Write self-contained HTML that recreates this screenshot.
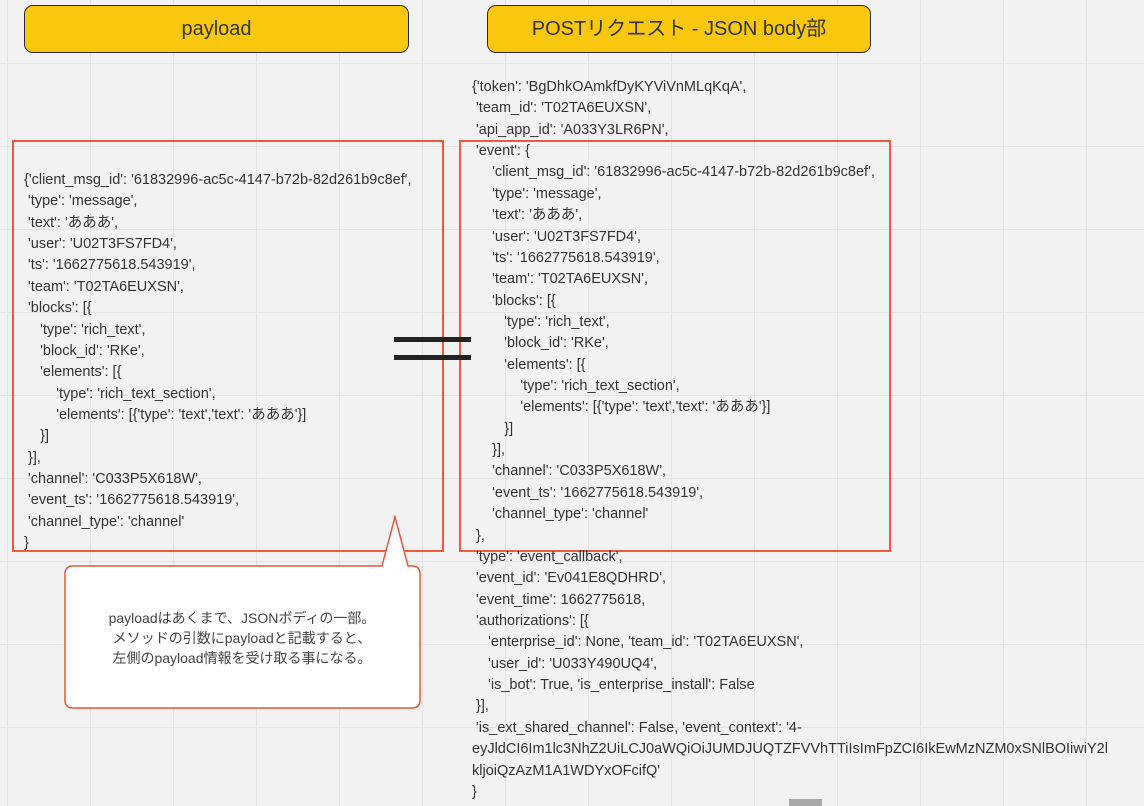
<!DOCTYPE html>
<html><head><meta charset="utf-8"><style>
html,body{margin:0;width:1144px;height:806px;overflow:hidden}
body{background:#f2f2f2;position:relative;font-family:"Liberation Sans","Noto Sans CJK JP",sans-serif;
background-image:linear-gradient(to right,#e4e4e4 1px,transparent 1px),linear-gradient(to bottom,#e4e4e4 1px,transparent 1px);background-size:83px 83px;background-position:7px 63px;}
.hdr{position:absolute;top:5px;height:46px;background:#f9c80e;border:1.5px solid #2a2a2a;border-radius:9px;font-size:20px;color:#333;text-align:center;line-height:46px}
.box{position:absolute;border:2px solid #ee5a40;box-sizing:border-box}
.txt{position:absolute;font-size:14.5px;color:#333;line-height:21.36px}
.txt div{height:21.36px;white-space:pre}
.bar{position:absolute;left:394px;width:77px;height:5px;background:#222}
</style></head><body>
<div class="hdr" style="left:24px;width:383px">payload</div>
<div class="hdr" style="left:487px;width:382px">POSTリクエスト - JSON body部</div>
<div class="box" style="left:12px;top:140px;width:432px;height:412px"></div>
<div class="box" style="left:459px;top:140px;width:432px;height:412px"></div>
<div class="bar" style="top:337px"></div>
<div class="bar" style="top:355px"></div>
<div class="txt" style="left:24px;top:170px"><div>{'client_msg_id': '61832996-ac5c-4147-b72b-82d261b9c8ef',</div><div> 'type': 'message',</div><div> 'text': 'あああ',</div><div> 'user': 'U02T3FS7FD4',</div><div> 'ts': '1662775618.543919',</div><div> 'team': 'T02TA6EUXSN',</div><div> 'blocks': [{</div><div>    'type': 'rich_text',</div><div>    'block_id': 'RKe',</div><div>    'elements': [{</div><div>        'type': 'rich_text_section',</div><div>        'elements': [{'type': 'text','text': 'あああ'}]</div><div>    }]</div><div> }],</div><div> 'channel': 'C033P5X618W',</div><div> 'event_ts': '1662775618.543919',</div><div> 'channel_type': 'channel'</div><div>}</div></div>
<div class="txt" style="left:472px;top:77px"><div>{'token': 'BgDhkOAmkfDyKYViVnMLqKqA',</div><div> 'team_id': 'T02TA6EUXSN',</div><div> 'api_app_id': 'A033Y3LR6PN',</div><div> 'event': {</div><div>     'client_msg_id': '61832996-ac5c-4147-b72b-82d261b9c8ef',</div><div>     'type': 'message',</div><div>     'text': 'あああ',</div><div>     'user': 'U02T3FS7FD4',</div><div>     'ts': '1662775618.543919',</div><div>     'team': 'T02TA6EUXSN',</div><div>     'blocks': [{</div><div>        'type': 'rich_text',</div><div>        'block_id': 'RKe',</div><div>        'elements': [{</div><div>            'type': 'rich_text_section',</div><div>            'elements': [{'type': 'text','text': 'あああ'}]</div><div>        }]</div><div>     }],</div><div>     'channel': 'C033P5X618W',</div><div>     'event_ts': '1662775618.543919',</div><div>     'channel_type': 'channel'</div><div> },</div><div> 'type': 'event_callback',</div><div> 'event_id': 'Ev041E8QDHRD',</div><div> 'event_time': 1662775618,</div><div> 'authorizations': [{</div><div>    'enterprise_id': None, 'team_id': 'T02TA6EUXSN',</div><div>    'user_id': 'U033Y490UQ4',</div><div>    'is_bot': True, 'is_enterprise_install': False</div><div> }],</div><div> 'is_ext_shared_channel': False, 'event_context': '4-</div><div>eyJldCI6Im1lc3NhZ2UiLCJ0aWQiOiJUMDJUQTZFVVhTTiIsImFpZCI6IkEwMzNZM0xSNlBOIiwiY2l</div><div>kljoiQzAzM1A1WDYxOFcifQ'</div><div>}</div></div>
<svg style="position:absolute;left:0;top:0" width="1144" height="806">
<path d="M73,566 H382 L395,517 L408,566 H412 Q420,566 420,574 V700 Q420,708 412,708 H73 Q65,708 65,700 V574 Q65,566 73,566 Z" fill="#fff" stroke="#e8563d" stroke-width="1.5"/>
<text x="242" y="623" font-size="14" fill="#444" text-anchor="middle" font-family="Liberation Sans, Noto Sans CJK JP, sans-serif">payloadはあくまで、JSONボディの一部。</text>
<text x="242" y="643" font-size="14" fill="#444" text-anchor="middle" font-family="Liberation Sans, Noto Sans CJK JP, sans-serif">メソッドの引数にpayloadと記載すると、</text>
<text x="242" y="663" font-size="14" fill="#444" text-anchor="middle" font-family="Liberation Sans, Noto Sans CJK JP, sans-serif">左側のpayload情報を受け取る事になる。</text>
<rect x="789" y="799" width="33" height="7" fill="#aaa"/>
</svg>
</body></html>
